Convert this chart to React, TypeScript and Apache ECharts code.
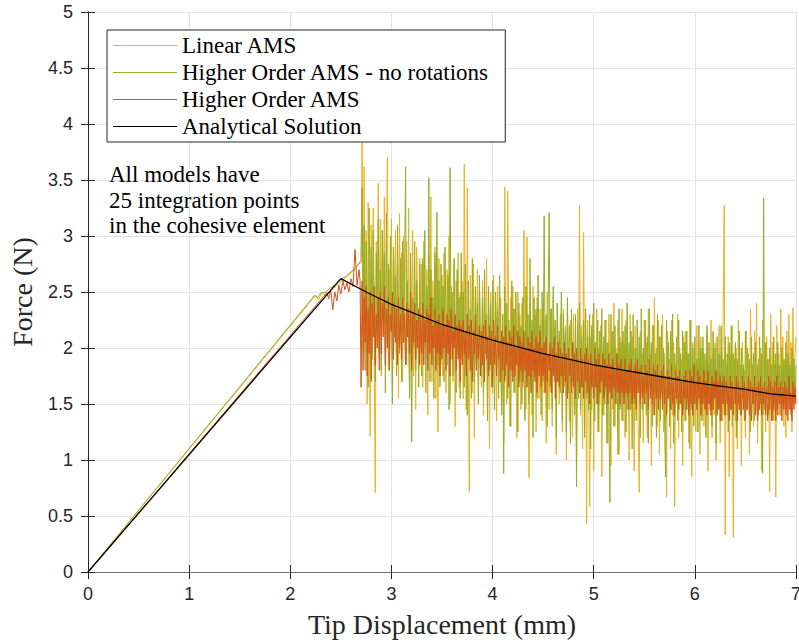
import React, { useEffect, useRef } from "react";
import * as echarts from "echarts";

// ---------- data ----------
const X_TICKS = [0, 1, 2, 3, 4, 5, 6, 7];
const Y_TICKS = [0, 0.5, 1, 1.5, 2, 2.5, 3, 3.5, 4, 4.5, 5];

const SERIES_NAMES = [
  "Linear AMS",
  "Higher Order AMS - no rotations",
  "Higher Order AMS",
  "Analytical Solution",
];

const NOTE_LINES = ["All models have", "25 integration points", "in the cohesive element"];

// elastic loading branch (displacement, force)
const linearLead: [number, number][] = [
  [0, 0], [2.25, 2.47], [2.28, 2.43], [2.31, 2.49], [2.35, 2.47], [2.4, 2.52],
  [2.45, 2.55], [2.5, 2.59], [2.55, 2.63], [2.6, 2.67], [2.65, 2.72], [2.69, 2.76],
];
const noRotLead: [number, number][] = [
  [0, 0], [2.24, 2.47], [2.27, 2.45], [2.3, 2.49], [2.35, 2.5], [2.4, 2.54],
  [2.45, 2.57], [2.5, 2.61], [2.55, 2.64], [2.6, 2.68], [2.65, 2.72], [2.69, 2.77],
];
const higherLead: [number, number][] = [
  [0, 0], [2.33, 2.46], [2.36, 2.5], [2.38, 2.44], [2.4, 2.52], [2.42, 2.34],
  [2.44, 2.5], [2.46, 2.42], [2.48, 2.56], [2.5, 2.48], [2.52, 2.6], [2.54, 2.52],
  [2.56, 2.58], [2.58, 2.5], [2.6, 2.62], [2.62, 2.55], [2.64, 2.88], [2.66, 2.56],
  [2.68, 2.7], [2.69, 2.6],
];

// softening branch sampled every 0.01 mm from 2.70 mm to 7.00 mm
const TAIL_START = 2.7;
const TAIL_STEP = 0.01;

const linearTail = [
  2.76, 3.88, 2.1, 3.62, 1.95, 3.05, 1.5, 3.3, 2.4, 1.21, 3.1, 2.05, 3.25, 1.85, 0.71, 2.95, 2.2, 3.47, 1.9, 3.15,
  1.75, 3.05, 2.3, 3.35, 1.95, 2.85, 3.7, 1.8, 2.7, 2.15, 3.15, 1.65, 2.9, 2.35, 3.05, 1.9, 2.75, 1.55, 3.2, 2.1,
  2.85, 1.7, 3.0, 2.25, 1.85, 2.95, 2.1, 3.25, 1.6, 2.7, 2.2, 3.05, 1.75, 2.6, 1.45, 2.9, 2.3, 1.8, 2.8, 2.05,
  2.75, 1.65, 2.95, 2.15, 1.9, 2.7, 1.4, 2.85, 2.25, 3.35, 1.7, 2.6, 2.05, 2.9, 1.55, 2.7, 1.25, 2.8, 2.1, 1.85,
  2.65, 1.75, 2.85, 2.2, 1.6, 2.7, 2.0, 3.0, 1.5, 2.55, 2.15, 1.7, 2.75, 1.3, 2.6, 2.1, 2.85, 1.65, 2.5, 1.95,
  2.6, 1.55, 3.64, 2.05, 1.45, 3.43, 1.8, 0.72, 2.65, 2.15, 1.6, 2.75, 1.2, 2.45, 1.9, 2.7, 1.5, 2.55, 2.0, 1.65,
  2.6, 1.4, 2.45, 1.95, 2.8, 1.55, 2.35, 1.1, 2.5, 2.0, 1.6, 2.65, 1.85, 2.4, 1.35, 2.55, 2.05, 1.7, 2.45, 1.5,
  2.3, 1.15, 3.44, 1.9, 1.5, 3.4, 2.05, 1.3, 2.45, 1.75, 2.55, 1.6, 2.35, 1.95, 1.2, 2.5, 1.85, 2.3, 1.45, 2.4,
  1.65, 3.05, 2.1, 1.45, 2.99, 1.8, 0.84, 2.4, 1.95, 1.4, 2.55, 1.75, 2.3, 1.25, 2.45, 1.9, 1.55, 2.35, 2.0, 1.35,
  2.4, 1.6, 2.25, 1.15, 2.5, 1.85, 1.45, 2.35, 1.95, 1.3, 2.45, 1.7, 2.2, 1.05, 2.4, 1.8, 1.5, 2.3, 1.9, 1.25,
  2.35, 1.65, 2.2, 1.0, 2.4, 1.8, 1.35, 2.25, 1.9, 1.2, 2.3, 1.55, 2.1, 0.95, 2.35, 1.75, 3.27, 1.4, 2.2, 1.1,
  3.03, 1.6, 2.15, 0.43, 2.25, 1.7, 0.58, 2.1, 1.45, 2.3, 0.9, 2.05, 1.65, 2.35, 1.25, 2.0, 1.5, 2.2, 0.85, 1.95,
  1.4, 2.25, 1.6, 2.05, 1.15, 2.3, 1.75, 0.95, 2.15, 1.45, 2.4, 1.3, 2.0, 1.65, 2.25, 1.05, 2.1, 1.55, 2.35, 1.35,
  2.05, 1.2, 2.25, 1.6, 1.95, 1.0, 2.3, 1.45, 2.1, 1.7, 0.9, 2.2, 1.5, 2.0, 1.25, 0.71, 2.15, 1.6, 1.95, 1.15,
  2.25, 1.5, 2.05, 1.2, 2.35, 1.65, 1.95, 0.95, 2.2, 1.4, 2.45, 1.55, 2.0, 1.3, 2.25, 1.05, 2.1, 1.6, 2.3, 1.25,
  1.95, 1.45, 0.67, 2.15, 1.55, 1.9, 1.1, 2.25, 1.4, 2.05, 0.58, 1.85, 1.5, 2.3, 1.2, 2.0, 1.6, 1.9, 0.95, 2.1,
  1.35, 2.15, 1.55, 1.95, 1.15, 2.25, 1.45, 0.85, 2.05, 1.6, 1.85, 1.25, 2.2, 1.5, 1.9, 1.05, 2.1, 1.4, 2.0, 1.3,
  1.9, 1.45, 2.15, 0.9, 1.85, 1.55, 2.25, 1.2, 1.95, 1.4, 2.05, 1.0, 1.8, 1.5, 2.2, 1.15, 1.95, 1.35, 2.3, 3.27,
  0.33, 1.85, 1.4, 2.1, 0.85, 1.95, 1.5, 2.2, 0.31, 1.9, 1.35, 2.0, 1.1, 2.25, 1.45, 1.85, 0.95, 2.05, 1.55, 1.8,
  1.2, 2.15, 1.5, 1.95, 1.05, 2.35, 1.6, 1.85, 1.3, 2.15, 1.45, 2.4, 1.15, 1.9, 1.55, 2.0, 0.9, 2.25, 1.4, 1.95,
  1.25, 2.1, 1.55, 1.9, 0.72, 2.3, 1.45, 2.05, 1.35, 1.85, 0.67, 2.2, 1.6, 1.95, 1.4, 2.35, 1.5, 2.1, 1.3, 1.9,
  1.2, 2.15, 1.6, 2.3, 1.45, 2.05, 1.25, 2.36, 1.55, 1.95, 2.1,
];

const noRotTail = [
  2.78, 3.43, 2.2, 3.1, 1.8, 2.95, 2.4, 1.65, 3.25, 2.1, 2.9, 1.9, 3.05, 2.35, 1.7, 2.85, 2.15, 3.15, 1.95, 2.7,
  1.8, 3.05, 2.25, 2.85, 1.6, 3.2, 2.05, 2.75, 1.85, 3.0, 2.3, 1.5, 2.9, 2.1, 2.65, 1.75, 3.1, 2.2, 1.95, 2.8,
  1.7, 2.95, 2.15, 2.7, 3.62, 1.85, 2.6, 2.05, 1.55, 2.85, 1.16, 2.45, 2.0, 2.95, 1.8, 2.6, 2.2, 1.65, 2.75, 2.1,
  1.75, 2.8, 2.05, 3.05, 1.6, 2.55, 2.15, 3.52, 1.7, 2.7, 2.0, 2.45, 1.55, 2.85, 2.1, 3.21, 1.85, 2.6, 1.65, 2.75,
  2.0, 2.55, 1.7, 2.9, 2.15, 1.85, 2.65, 1.45, 3.61, 2.05, 2.5, 1.75, 2.8, 2.1, 1.6, 2.7, 1.95, 2.45, 1.55, 2.85,
  1.9, 2.5, 1.65, 2.75, 2.1, 1.4, 2.6, 1.95, 2.35, 1.55, 2.8, 2.0, 1.7, 2.55, 1.85, 2.4, 1.5, 2.65, 2.05, 1.75,
  2.45, 1.6, 2.7, 1.95, 2.3, 1.35, 2.55, 1.8, 2.4, 1.65, 2.6, 1.9, 1.45, 2.5, 2.05, 2.35, 1.55, 2.65, 1.85, 1.4,
  2.3, 0.88, 2.55, 1.75, 2.4, 1.55, 2.25, 1.9, 1.3, 2.6, 1.8, 2.35, 1.6, 2.5, 1.95, 1.25, 2.4, 1.7, 2.2, 1.5,
  2.45, 1.85, 1.35, 2.55, 1.7, 2.3, 1.5, 2.8, 1.9, 2.25, 1.2, 2.45, 1.75, 2.35, 1.55, 2.65, 1.8, 2.2, 1.4, 2.5,
  1.7, 3.18, 1.85, 2.3, 1.3, 2.45, 3.21, 1.65, 2.35, 1.45, 2.55, 1.8, 2.25, 1.2, 2.4, 1.7, 2.15, 1.6, 2.5, 1.35,
  2.3, 1.75, 2.15, 1.25, 2.45, 1.6, 2.2, 1.15, 2.35, 1.7, 2.05, 1.4, 2.3, 0.76, 2.2, 1.55, 2.4, 1.45, 2.1, 1.65,
  2.25, 1.2, 2.35, 1.55, 2.1, 1.45, 2.3, 1.1, 2.2, 1.65, 2.4, 1.35, 2.05, 1.5, 2.25, 1.25, 2.15, 1.6, 2.35, 1.4,
  2.1, 1.5, 2.25, 1.15, 2.05, 1.45, 0.62, 2.3, 1.55, 2.15, 1.3, 2.2, 1.6, 1.95, 1.05, 2.35, 1.45, 2.05, 1.35, 2.15,
  1.55, 2.2, 1.25, 2.4, 1.6, 2.05, 1.45, 2.15, 1.1, 2.3, 1.5, 2.0, 1.35, 2.25, 1.65, 2.1, 1.2, 2.35, 1.45, 2.0,
  1.6, 2.25, 1.4, 2.1, 1.15, 2.35, 1.55, 2.05, 1.3, 2.2, 1.6, 1.95, 1.2, 2.3, 1.45, 2.1, 1.35, 2.2, 1.55, 2.0,
  1.4, 0.85, 2.25, 1.55, 2.05, 1.3, 2.15, 1.45, 2.3, 1.15, 1.95, 1.6, 2.1, 1.35, 2.25, 1.5, 1.95, 1.25, 2.15, 1.45,
  2.05, 1.35, 2.15, 1.55, 1.95, 1.1, 2.25, 1.45, 2.0, 1.3, 2.1, 1.6, 1.9, 1.25, 2.2, 1.5, 2.0, 1.35, 2.1, 1.55,
  1.95, 1.2, 2.2, 1.5, 2.05, 1.45, 1.9, 1.3, 2.15, 1.55, 2.0, 1.15, 2.1, 1.45, 1.95, 1.35, 2.2, 1.5, 1.9, 1.4,
  2.1, 1.55, 1.95, 1.25, 2.05, 1.45, 2.2, 1.3, 1.95, 1.6, 2.05, 1.2, 1.9, 1.5, 2.15, 1.4, 2.0, 1.55, 1.85, 1.35,
  2.15, 1.45, 2.0, 1.6, 1.9, 1.25, 2.1, 1.5, 1.95, 1.35, 2.05, 1.55, 1.85, 1.4, 2.1, 1.5, 1.95, 0.88, 3.34, 1.45,
  2.05, 1.55, 1.9, 1.4, 2.0, 1.6, 1.85, 1.35, 2.1, 1.5, 1.95, 1.45, 2.05, 1.6, 1.85, 1.4, 2.0, 1.55, 1.9, 1.5,
  2.05, 1.45, 1.95, 1.6, 1.85, 1.4, 2.0, 1.55, 1.9, 1.5, 1.85,
];

const higherTail = [
  1.65, 2.6, 1.8, 2.45, 2.05, 2.55, 1.75, 2.35, 1.95, 2.5, 1.7, 2.4, 2.1, 2.55, 1.85, 2.3, 2.0, 2.45, 1.8, 2.5,
  1.95, 2.4, 2.1, 2.55, 1.85, 2.35, 2.0, 2.45, 1.8, 2.3, 2.15, 2.5, 1.9, 2.4, 2.05, 2.35, 1.85, 2.45, 2.0, 2.3,
  1.9, 2.45, 2.05, 2.3, 1.85, 2.4, 2.1, 2.35, 1.95, 2.5, 1.8, 2.3, 2.05, 2.4, 1.9, 2.25, 2.0, 2.35, 1.85, 2.3,
  1.95, 2.4, 1.85, 2.25, 2.05, 2.35, 1.8, 2.3, 1.95, 2.45, 1.85, 2.2, 2.0, 2.35, 1.8, 2.25, 1.95, 2.3, 1.75, 2.2,
  1.9, 2.35, 2.0, 2.2, 1.8, 2.3, 1.95, 2.25, 1.75, 2.35, 1.9, 2.15, 2.0, 2.3, 1.8, 2.2, 1.9, 2.25, 1.7, 2.2,
  1.85, 2.25, 1.95, 2.15, 1.75, 2.3, 1.9, 2.2, 1.8, 2.25, 1.7, 2.15, 1.95, 2.3, 1.8, 2.1, 1.9, 2.2, 1.75, 2.15,
  1.85, 2.2, 1.7, 2.25, 1.9, 2.1, 1.75, 2.2, 1.85, 2.15, 1.65, 2.25, 1.85, 2.1, 1.75, 2.2, 1.9, 2.05, 1.7, 2.15,
  1.8, 2.1, 1.7, 2.2, 1.85, 2.05, 1.65, 2.15, 1.8, 2.1, 1.7, 2.2, 1.75, 2.0, 1.85, 2.15, 1.65, 2.1, 1.8, 2.05,
  1.7, 2.15, 1.8, 2.0, 1.65, 2.1, 1.75, 2.05, 1.6, 2.15, 1.8, 2.0, 1.7, 2.1, 1.6, 2.05, 1.75, 2.15, 1.65, 2.0,
  1.75, 2.05, 1.6, 2.1, 1.7, 1.95, 1.8, 2.05, 1.6, 2.0, 1.75, 2.1, 1.55, 1.95, 1.7, 2.05, 1.65, 2.0, 1.75, 1.95,
  1.6, 2.05, 1.7, 1.95, 1.55, 2.0, 1.75, 1.9, 1.6, 2.05, 1.65, 1.95, 1.55, 2.0, 1.7, 1.9, 1.6, 2.0, 1.65, 1.9,
  1.55, 1.95, 1.7, 2.0, 1.6, 1.9, 1.5, 1.95, 1.65, 1.85, 1.55, 2.0, 1.65, 1.9, 1.5, 1.95, 1.6, 1.85, 1.7, 1.95,
  1.55, 1.9, 1.65, 1.85, 1.5, 1.95, 1.6, 1.85, 1.55, 1.9, 1.65, 1.8, 1.5, 1.95, 1.6, 1.85, 1.5, 1.9, 1.6, 1.8,
  1.5, 1.9, 1.6, 1.8, 1.45, 1.85, 1.6, 1.9, 1.5, 1.8, 1.55, 1.85, 1.45, 1.9, 1.6, 1.8, 1.5, 1.85, 1.55, 1.75,
  1.5, 1.85, 1.6, 1.8, 1.45, 1.9, 1.55, 1.75, 1.5, 1.85, 1.4, 1.8, 1.55, 1.85, 1.45, 1.75, 1.55, 1.8, 1.45, 1.85,
  1.5, 1.75, 1.4, 1.8, 1.55, 1.75, 1.45, 1.85, 1.5, 1.7, 1.4, 1.8, 1.55, 1.75, 1.45, 1.8, 1.5, 1.7, 1.4, 1.75,
  1.55, 1.8, 1.45, 1.7, 1.4, 1.8, 1.5, 1.75, 1.4, 1.85, 1.5, 1.7, 1.45, 1.8, 1.55, 1.75, 1.4, 1.7, 1.5, 1.8,
  1.45, 1.7, 1.4, 1.8, 1.5, 1.65, 1.4, 1.75, 1.45, 1.7, 1.55, 1.8, 1.4, 1.7, 1.45, 1.75, 1.35, 1.7, 1.5, 1.75,
  1.4, 1.7, 1.5, 1.65, 1.35, 1.75, 1.45, 1.7, 1.4, 1.65, 1.5, 1.75, 1.35, 1.7, 1.45, 1.65, 1.4, 1.75, 1.45, 1.7,
  1.35, 1.65, 1.45, 1.75, 1.4, 1.7, 1.35, 1.65, 1.5, 1.75, 1.4, 1.65, 1.35, 1.7, 1.45, 1.75, 1.4, 1.65, 1.5, 1.7,
  1.4, 1.65, 1.35, 1.75, 1.45, 1.7, 1.35, 1.65, 1.45, 1.7, 1.35, 1.75, 1.4, 1.65, 1.5, 1.7, 1.35, 1.65, 1.45, 1.7,
  1.4, 1.65, 1.35, 1.75, 1.45, 1.6, 1.35, 1.7, 1.45, 1.65, 1.5,
];

const analyticalX = [0, 2.5, 2.75, 3, 3.25, 3.5, 3.75, 4, 4.25, 4.5, 4.75, 5, 5.25, 5.5, 5.75, 6, 6.25, 6.5, 6.75, 7];
const analyticalY = [0, 2.62, 2.5, 2.39, 2.3, 2.21, 2.14, 2.07, 2.01, 1.95, 1.9, 1.85, 1.81, 1.77, 1.73, 1.69, 1.66, 1.63, 1.59, 1.57];

const COLORS = ["#EDB120", "#93AE26", "#D95319", "#000000"];

// ---------- helpers ----------
const withTail = (lead: [number, number][], tail: number[]) =>
  lead.concat(tail.map((v, i) => [+(TAIL_START + i * TAIL_STEP).toFixed(2), v] as [number, number]));

const SERIF = "Liberation Serif";
const SANS = "Liberation Sans";
const AXIS_COLOR = "#262626";

export default function App() {
  const ref = useRef<HTMLDivElement>(null);

  useEffect(() => {
    document.body.style.margin = "0";
    if (!ref.current) return;
    const chart = echarts.init(ref.current, undefined, { renderer: "svg" });

    const lineData = [
      withTail(linearLead, linearTail),
      withTail(noRotLead, noRotTail),
      withTail(higherLead, higherTail),
      analyticalX.map((x, i) => [x, analyticalY[i]]),
    ];

    const baseAxis = {
      type: "value" as const,
      axisLine: { show: true, lineStyle: { color: AXIS_COLOR, width: 1 } },
      axisTick: { show: true, inside: true, length: 7, lineStyle: { color: AXIS_COLOR } },
    };

    chart.setOption({
      animation: false,
      backgroundColor: "#fff",
      title: {
        text: NOTE_LINES.join("\n"),
        left: 109,
        top: 162,
        padding: 0,
        textStyle: {
          fontFamily: SERIF,
          fontSize: 23,
          fontWeight: "normal",
          lineHeight: 25.5,
          color: "#000",
        },
      },
      legend: {
        data: SERIES_NAMES.map((name, i) => ({
          name,
          icon: "rect",
          itemStyle: { color: COLORS[i] },
        })),
        orient: "vertical",
        left: 107,
        top: 30,
        padding: [4, 16, 4, 6],
        itemGap: 4,
        itemWidth: 64,
        itemHeight: 1.2,
        backgroundColor: "#fff",
        borderColor: AXIS_COLOR,
        borderWidth: 1,
        borderRadius: 0,
        selectedMode: false,
        textStyle: { fontFamily: SERIF, fontSize: 23, lineHeight: 23, color: "#000" },
        z: 10,
      },
      grid: { left: 88, right: 3, top: 12, bottom: 70, containLabel: false, outerBoundsMode: "none" },
      xAxis: [
        {
          ...baseAxis,
          min: X_TICKS[0],
          max: X_TICKS[X_TICKS.length - 1],
          interval: 1,
          position: "bottom",
          name: "Tip Displacement (mm)",
          nameLocation: "middle",
          nameGap: 38,
          nameTextStyle: { fontFamily: SERIF, fontSize: 28, color: "#262626" },
          axisLabel: { color: AXIS_COLOR, fontFamily: SANS, fontSize: 18, margin: 13 },
          splitLine: { show: true, lineStyle: { color: "#e3e3e3", width: 1 } },
        },
        {
          ...baseAxis,
          min: X_TICKS[0],
          max: X_TICKS[X_TICKS.length - 1],
          interval: 1,
          position: "top",
          axisLabel: { show: false },
          splitLine: { show: false },
          axisLine: { show: true, lineStyle: { color: "#6e6e6e", width: 1 } },
        },
      ],
      yAxis: [
        {
          ...baseAxis,
          min: Y_TICKS[0],
          max: Y_TICKS[Y_TICKS.length - 1],
          interval: 0.5,
          position: "left",
          name: "Force (N)",
          nameLocation: "middle",
          nameGap: 52,
          nameTextStyle: { fontFamily: SERIF, fontSize: 28, color: "#262626" },
          axisLabel: { color: AXIS_COLOR, fontFamily: SANS, fontSize: 18, margin: 15 },
          splitLine: { show: true, lineStyle: { color: "#e3e3e3", width: 1 } },
        },
        {
          ...baseAxis,
          min: Y_TICKS[0],
          max: Y_TICKS[Y_TICKS.length - 1],
          interval: 0.5,
          position: "right",
          axisLabel: { show: false },
          splitLine: { show: false },
        },
      ],
      series: SERIES_NAMES.map((name, i) => ({
        name,
        type: "line",
        data: lineData[i],
        showSymbol: false,
        symbol: "none",
        xAxisIndex: 0,
        yAxisIndex: 0,
        lineStyle: { color: COLORS[i], width: i === 3 ? 1.3 : 1 },
        itemStyle: { color: COLORS[i] },
        z: 2 + i,
        emphasis: { disabled: true },
      })),
    });

    return () => chart.dispose();
  }, []);

  return <div ref={ref} style={{ width: 799, height: 642 }} />;
}
